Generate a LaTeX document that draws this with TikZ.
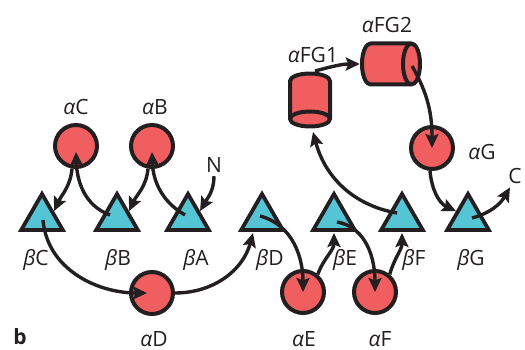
\documentclass[tikz,border=0pt]{standalone}
\usepackage{fontspec}
\setmainfont{Open Sans}
\usetikzlibrary{shapes.geometric,arrows.meta}
\definecolor{nodered}{HTML}{F15E5F}
\definecolor{nodecyan}{HTML}{55C5D6}
\definecolor{ink}{HTML}{231F20}

\begin{document}
\begin{tikzpicture}[x=1pt,y=-1pt,
  sub/.style={circle,draw=ink,fill=nodered,line width=4pt,minimum size=42pt,inner sep=0pt},
  beta/.style={regular polygon,regular polygon sides=3,draw=ink,fill=nodecyan,line width=3.8pt,minimum size=48pt,inner sep=0pt},
  canbox/.style={inner sep=0pt},
  canbody/.style={draw=ink,fill=nodered,line width=4pt,line join=round},
  lab/.style={text=ink,font=\fontsize{21}{24}\selectfont,inner sep=0pt,anchor=base},
  link/.style={draw=ink,line width=3.4pt,-{Stealth[length=14pt,width=13pt,inset=2.5pt]}},
]
\useasboundingbox (0,0) rectangle (525,350);

% beta subunits
\node[beta] (bC) at (42,218) {};
\node[beta] (bB) at (117,218) {};
\node[beta] (bA) at (188,218) {};
\node[beta] (bD) at (262,218) {};
\node[beta] (bE) at (334,218) {};
\node[beta] (bF) at (402,218) {};
\node[beta] (bG) at (468,218) {};

% alpha subunits
\node[sub] (aC) at (76,146) {};
\node[sub] (aB) at (152,146) {};
\node[sub] (aD) at (152,293) {};
\node[sub] (aE) at (303,292) {};
\node[sub] (aF) at (375,292) {};
\node[sub] (aG) at (432,148) {};

% split alpha subunits: upright can (face at the bottom) and lying can (face at the right)
\node[canbox,minimum width=44pt,minimum height=55pt] (fg1) at (310,100) {};
\draw[canbody] ([shift={(-20,-19)}]fg1.center)
  arc[start angle=180,end angle=0,x radius=20pt,y radius=7.5pt]
  -- ([shift={(20,19)}]fg1.center)
  arc[start angle=0,end angle=-180,x radius=20pt,y radius=7.5pt] -- cycle;
\draw[canbody,fill=none] ([shift={(-20,19)}]fg1.center)
  arc[start angle=180,end angle=0,x radius=20pt,y radius=7.5pt];

\node[canbox,minimum width=62pt,minimum height=45pt] (fg2) at (391,64) {};
\draw[canbody] ([shift={(-20.5,-20.5)}]fg2.center)
  arc[start angle=90,end angle=270,x radius=8.5pt,y radius=20.5pt]
  -- ([shift={(20.5,20.5)}]fg2.center)
  arc[start angle=-90,end angle=90,x radius=8.5pt,y radius=20.5pt] -- cycle;
\draw[canbody,fill=none] ([shift={(20.5,-20.5)}]fg2.center)
  arc[start angle=90,end angle=270,x radius=8.5pt,y radius=20.5pt];

% labels
\node[lab] (lC) at (76,115) {{\itshape α}C};
\node[lab] (lB) at (155,115) {{\itshape α}B};
\node[lab] (lN) at (214,172) {N};
\node[lab] (lbC) at (36,265) {{\itshape β}C};
\node[lab] (lbB) at (118,265) {{\itshape β}B};
\node[lab] (lbA) at (196,265) {{\itshape β}A};
\node[lab] (lbD) at (270,265) {{\itshape β}D};
\node[lab] (lbE) at (345,265) {{\itshape β}E};
\node[lab] (lbF) at (414,265) {{\itshape β}F};
\node[lab] (lbG) at (471,265) {{\itshape β}G};
\node[lab] (lD) at (154,346) {{\itshape α}D};
\node[lab] (lE) at (304,346) {{\itshape α}E};
\node[lab] (lF) at (380,346) {{\itshape α}F};
\node[lab] (lG) at (482,160) {{\itshape α}G};
\node[lab] (lFG1) at (313,63) {{\itshape α}FG1};
\node[lab] (lFG2) at (387,33) {{\itshape α}FG2};
\node[lab] (lCt) at (515,183) {C};
\node[lab,font=\fontsize{21}{24}\selectfont\bfseries] (panel) at (20,344) {b};

% connections
\draw[link] (aC.-100) to[out=-95,in=65] (bC.side 3);
\draw[link] ([shift={(-7,-3)}]bB.center) to[out=160,in=-88] ([shift={(0,6)}]aC.center);
\draw[link] (aB.-100) to[out=-95,in=65] (bB.side 3);
\draw[link] ([shift={(-3,-3)}]bA.center) to[out=150,in=-88] ([shift={(0,6)}]aB.center);
\draw[link] ([shift={(0,4)}]lN.south) to[out=-90,in=60] (bA.side 3);
\draw[link] ([shift={(1,2)}]bC.center) to[out=-85,in=180] ([shift={(-5,0)}]aD.center);
\draw[link] (aD.east) to[out=0,in=-105] ([shift={(-9,15)}]bD.center);
\draw[link] ([shift={(-2,-2)}]bD.center) to[out=-15,in=90] (aE.center);
\draw[link] (aE.50) to[out=70,in=-90] ([shift={(0,15)}]bE.center);
\draw[link] ([shift={(3,4)}]bE.center) to[out=-10,in=90] (aF.center);
\draw[link] (aF.50) to[out=75,in=-90] ([shift={(0,15)}]bF.center);
\draw[link] ([shift={(-5,-5)}]bF.center) to[out=170,in=-75] ([shift={(3,32)}]fg1.center);
\draw[link] ([shift={(5,-29)}]fg1.center) to[out=15,in=180] (fg2.west);
\draw[link] ([shift={(21,2)}]fg2.center) to[out=-60,in=90] (aG.center);
\draw[link] (aG.-95) to[out=-85,in=155] (bG.side 1);
\draw[link] ([shift={(4,0)}]bG.center) to[out=15,in=-120] ([shift={(-5,4)}]lCt.south);
\end{tikzpicture}
\end{document}
